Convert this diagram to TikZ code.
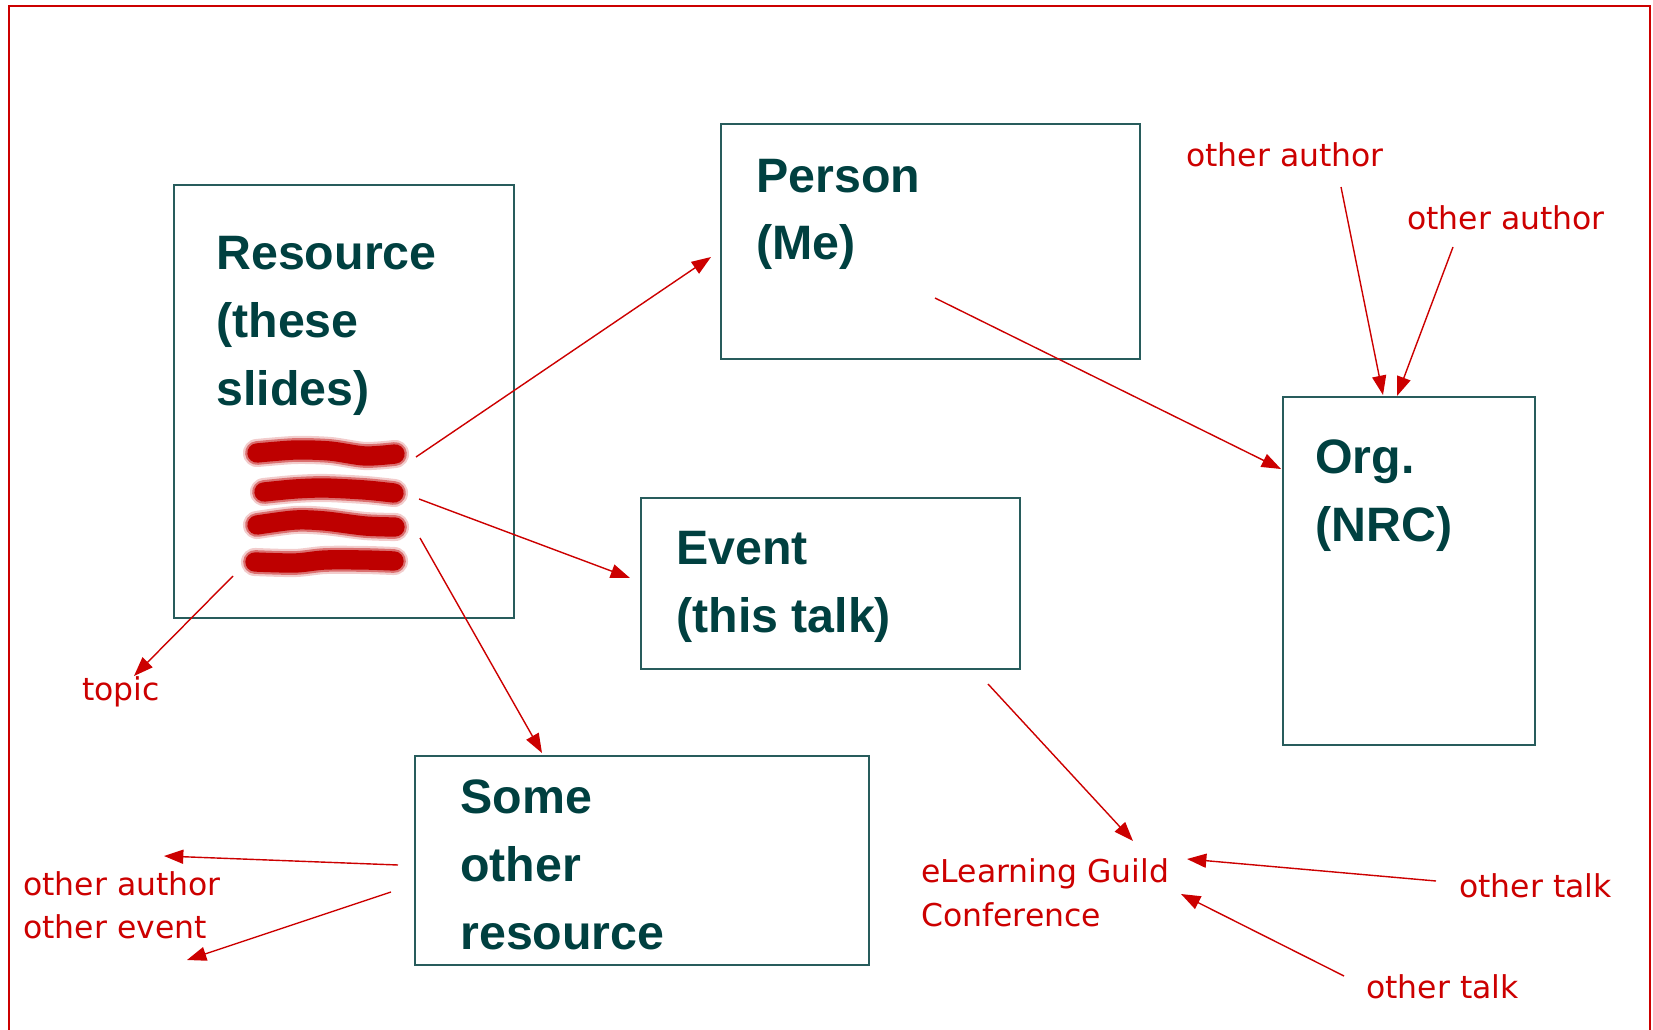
\documentclass[tikz,border=0pt]{standalone}
\usepackage{fontspec}
\setmainfont{DejaVu Sans}
\newfontfamily\boxfont{Liberation Sans}
\usetikzlibrary{arrows.meta}
\definecolor{slidered}{RGB}{204,0,0}
\definecolor{smearred}{RGB}{190,0,0}
\definecolor{boxteal}{RGB}{40,92,92}
\definecolor{textteal}{RGB}{0,64,64}

\begin{document}
\begin{tikzpicture}[x=0.02cm,y=-0.02cm,
        box/.style={draw=boxteal,line width=1.1pt,inner sep=0pt,anchor=north west},
        boxtext/.style={anchor=base west,align=left,inner sep=0pt,text=textteal,font=\boxfont\bfseries\fontsize{27.5}{38.7}\selectfont},
        tag/.style={anchor=base west,align=left,inner sep=0pt,text=slidered,font=\fontsize{17.9}{24.5}\selectfont},
        link/.style={draw=slidered,line width=0.8pt,-{Triangle[length=11pt,width=8pt]}},
        smear/.style={draw=smearred,line width=11pt,line cap=round,
            preaction={draw=smearred,opacity=0.2,line width=16pt,line cap=round},
            preaction={draw=smearred,opacity=0.45,line width=13.5pt,line cap=round}}]
        \useasboundingbox (0,0) rectangle (1653,1030);
        \draw[slidered,line width=1.2pt] (9,1040) -- (9,6) -- (1650,6) -- (1650,1040);
        \node[box,minimum width=6.8cm,minimum height=8.66cm] (resource) at (173,184) {};
        \node[box,minimum width=8.38cm,minimum height=4.7cm] (person) at (720,123) {};
        \node[box,minimum width=5.04cm,minimum height=6.96cm] (org) at (1282,396) {};
        \node[box,minimum width=7.58cm,minimum height=3.42cm] (event) at (640,497) {};
        \node[box,minimum width=9.08cm,minimum height=4.18cm] (otherres) at (414,755) {};
        \node[boxtext] (resourcetext) at (216,405) {Resource\\(these\\slides)};
        \node[boxtext] (persontext) at (756,260) {Person\\(Me)};
        \node[boxtext] (orgtext) at (1315,541) {Org.\\(NRC)};
        \node[boxtext] (eventtext) at (676,632) {Event\\(this talk)};
        \node[boxtext] (otherrestext) at (460,949) {Some\\other\\resource};
        \draw[smear] plot[smooth] coordinates {(257,453) (295,450) (330,451) (365,456) (395,454)};
        \draw[smear] plot[smooth] coordinates {(264,492) (295,489) (325,488) (365,490) (394,493)};
        \draw[smear] plot[smooth] coordinates {(257,525) (295,520) (325,521) (365,526) (395,527)};
        \draw[smear] plot[smooth] coordinates {(255,562) (295,563) (325,560) (365,560) (394,561)};
        \node[tag] (author1) at (1186,167) {other author};
        \node[tag] (author2) at (1407,230) {other author};
        \node[tag] (topic) at (82,700) {topic};
        \node[tag] (otherauthor) at (23,895) {other author};
        \node[tag] (otherevent) at (23,938) {other event};
        \node[tag] (guild) at (921,926) {eLearning Guild\\Conference};
        \node[tag] (talk1) at (1459,897) {other talk};
        \node[tag] (talk2) at (1366,998) {other talk};
        \coordinate (resA) at (416,457);
        \coordinate (resB) at (419,499);
        \coordinate (resC) at (420,538);
        \coordinate (resD) at (233,576);
        \coordinate (personin) at (711,257);
        \coordinate (eventin) at (630,578);
        \coordinate (otherresin) at (542,753);
        \coordinate (topicin) at (134,676);
        \coordinate (personout) at (935,298);
        \coordinate (orgin) at (1281,469);
        \coordinate (author1out) at (1341,187);
        \coordinate (orgtopA) at (1383,395);
        \coordinate (author2out) at (1453,247);
        \coordinate (orgtopB) at (1397,396);
        \coordinate (eventout) at (988,684);
        \coordinate (guildinA) at (1133,841);
        \coordinate (talk1out) at (1436,881);
        \coordinate (guildinB) at (1187,859);
        \coordinate (talk2out) at (1344,976);
        \coordinate (guildinC) at (1181,894);
        \coordinate (otherresA) at (398,865);
        \coordinate (authorin) at (164,856);
        \coordinate (otherresB) at (391,892);
        \coordinate (eventtagin) at (187,960);
        \draw[link] (resA) -- (personin);
        \draw[link] (resB) -- (eventin);
        \draw[link] (resC) -- (otherresin);
        \draw[link] (resD) -- (topicin);
        \draw[link] (personout) -- (orgin);
        \draw[link] (author1out) -- (orgtopA);
        \draw[link] (author2out) -- (orgtopB);
        \draw[link] (eventout) -- (guildinA);
        \draw[link] (talk1out) -- (guildinB);
        \draw[link] (talk2out) -- (guildinC);
        \draw[link] (otherresA) -- (authorin);
        \draw[link] (otherresB) -- (eventtagin);
\end{tikzpicture}
\end{document}
